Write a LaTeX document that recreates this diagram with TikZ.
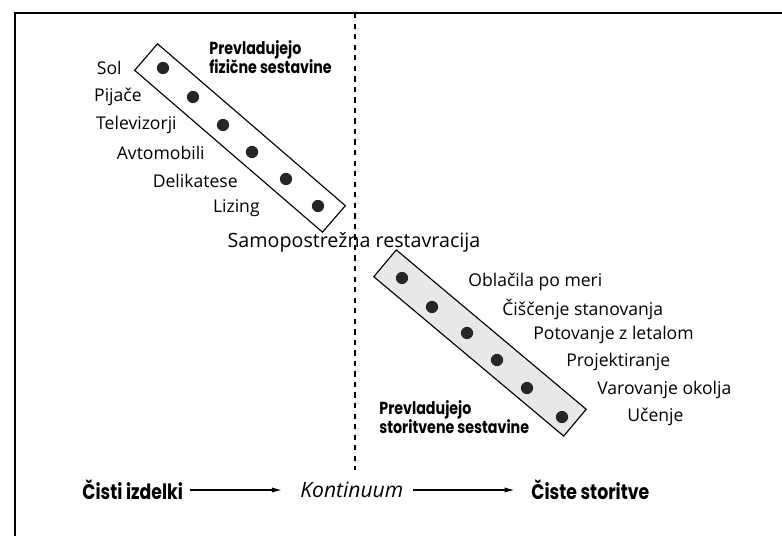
\documentclass[tikz,border=0pt]{standalone}
\usepackage{fontspec}
\setmainfont{Open Sans}
\newfontfamily\headfont{Poppins}[FakeStretch=0.82]
\usetikzlibrary{arrows.meta}

\begin{document}
\begin{tikzpicture}[x=0.02cm, y=-0.02cm,
    band/.style={draw, line width=0.65pt, rotate=-40.75, minimum width=4.96cm, minimum height=0.7cm, inner sep=0pt},
    dot/.style={circle, fill=black!85, inner sep=0pt, minimum size=0.245cm},
    item/.style={font=\fontsize{10}{12}\selectfont, inner sep=0pt},
    head/.style={font=\headfont\bfseries\fontsize{9.9}{10.8}\selectfont, align=left, inner sep=0pt},
    ends/.style={font=\headfont\bfseries\fontsize{12}{14}\selectfont, inner sep=0pt, anchor=west},
    flow/.style={-{Latex[length=5.5pt, width=3pt]}, line width=0.6pt},
]
\useasboundingbox (0,0) rectangle (782,536);
\draw[line width=0.8pt] (15,536) -- (15,13) -- (782,13);
\draw[line width=0.9pt, dash pattern=on 3pt off 3pt] (355,13) -- (355,470);

\node[band, fill=white] (fizicne) at (240,138) {};
\node[dot] (sol) at (163,68) {};
\node[dot] (pijace) at (193,97) {};
\node[dot] (tv) at (223,125) {};
\node[dot] (avto) at (252,152) {};
\node[dot] (delik) at (286,179) {};
\node[dot] (lizing) at (318,206) {};

\node[item, anchor=east] (lsol) at (122,68) {Sol};
\node[item, anchor=east] (lpijace) at (142,97) {Pijače};
\node[item, anchor=east] (ltv) at (177,125) {Televizorji};
\node[item, anchor=east] (lavto) at (205,153) {Avtomobili};
\node[item, anchor=east] (ldelik) at (238,181) {Delikatese};
\node[item, anchor=east] (llizing) at (260,208) {Lizing};
\node[head, anchor=north west] (hfiz) at (209,40) {Prevladujejo\\fizične sestavine};

\node[item, font=\fontsize{11.2}{13}\selectfont] (samo) at (354,242) {Samopostrežna restavracija};

\node[band, fill=gray!18, rotate=0.75] (storitvene) at (480,343) {};
\node[dot] (oblacila) at (402,278) {};
\node[dot] (ciscenje) at (432,307) {};
\node[dot] (potovanje) at (467,333) {};
\node[dot] (projekt) at (497,360) {};
\node[dot] (varovanje) at (527,388) {};
\node[dot] (ucenje) at (562,417) {};

\node[item, anchor=west] (loblacila) at (468,282) {Oblačila po meri};
\node[item, anchor=west] (lciscenje) at (502,309) {Čiščenje stanovanja};
\node[item, anchor=west] (lpotovanje) at (533,335) {Potovanje z letalom};
\node[item, anchor=west] (lprojekt) at (566,362) {Projektiranje};
\node[item, anchor=west] (lvarovanje) at (597,390) {Varovanje okolja};
\node[item, anchor=west] (lucenje) at (627,417) {Učenje};
\node[head, anchor=north west] (hstor) at (379,400) {Prevladujejo\\storitvene sestavine};

\node[ends] (izdelki) at (82,490) {Čisti izdelki};
\node[item, font=\itshape\fontsize{12}{14}\selectfont, anchor=west] (kontinuum) at (300,490) {Kontinuum};
\node[ends] (storitve) at (531,490) {Čiste storitve};
\draw[flow, shorten <=4pt, shorten >=10.5pt] (izdelki) -- (kontinuum);
\draw[flow, shorten <=5.5pt, shorten >=9.5pt] (kontinuum) -- (storitve);
\end{tikzpicture}
\end{document}
